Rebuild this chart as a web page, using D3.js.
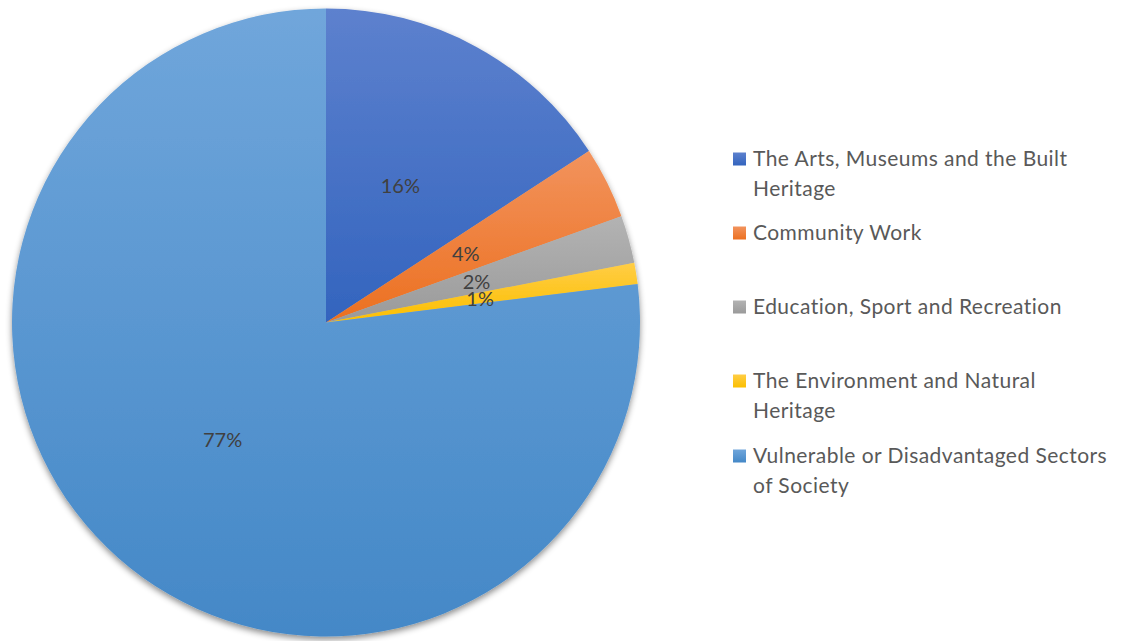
<!DOCTYPE html>
<html>
<head>
  <meta charset="utf-8" />
  <title>Pie chart</title>
  <script src="https://d3js.org/d3.v7.min.js"></script>
  <style>
    body {
      margin: 0;
      background: #fff;
    }
    svg {
      display: block;
      font-family: Lato, "Noto Sans", sans-serif;
    }
    .slice-label {
      font-size: 20px;
      fill: #404040;
      text-anchor: middle;
      dominant-baseline: central;
    }
    .legend text {
      font-size: 21px;
      letter-spacing: 0.45px;
      fill: #595959;
    }
  </style>
</head>
<body>
<svg width="1123" height="641"></svg>

<script>
  const categories = [
    "The Arts, Museums and the Built Heritage",
    "Community Work",
    "Education, Sport and Recreation",
    "The Environment and Natural Heritage",
    "Vulnerable or Disadvantaged Sectors of Society"
  ];
  const values = [15.8, 3.7, 2.45, 1.1, 76.95];
  const legendLines = [
    ["The Arts, Museums and the Built", "Heritage"],
    ["Community Work"],
    ["Education, Sport and Recreation"],
    ["The Environment and Natural", "Heritage"],
    ["Vulnerable or Disadvantaged Sectors", "of Society"]
  ];
  // top / bottom of each slice's gradient
  const topColors = ["#5d81ce", "#f2935d", "#b3b3b3", "#ffcd45", "#70a6db"];
  const bottomColors = ["#3364be", "#ec7020", "#9a9a9a", "#fbbf00", "#4488c7"];

  const svg = d3.select("svg");
  const cx = 326, cy = 322.5, radius = 314;

  const defs = svg.append("defs");
  const shadow = defs.append("filter")
    .attr("id", "shadow")
    .attr("x", "-10%").attr("y", "-10%")
    .attr("width", "120%").attr("height", "120%");
  shadow.append("feDropShadow")
    .attr("dx", 0).attr("dy", 3)
    .attr("stdDeviation", 3)
    .attr("flood-color", "#000")
    .attr("flood-opacity", 0.45);

  categories.forEach((c, i) => {
    const grad = defs.append("linearGradient")
      .attr("id", "grad" + i)
      .attr("x1", 0).attr("y1", 0)
      .attr("x2", 0).attr("y2", 1);
    grad.append("stop").attr("offset", "0%").attr("stop-color", topColors[i]);
    grad.append("stop").attr("offset", "100%").attr("stop-color", bottomColors[i]);
  });

  const pie = d3.pie().sort(null).value(d => d)(values);
  const arc = d3.arc().innerRadius(0).outerRadius(radius);
  const labelArc = d3.arc().innerRadius(radius * 0.497).outerRadius(radius * 0.497);

  const g = svg.append("g").attr("transform", `translate(${cx},${cy})`);

  g.append("g")
    .attr("filter", "url(#shadow)")
    .selectAll("path")
    .data(pie)
    .join("path")
    .attr("d", arc)
    .attr("fill", (d, i) => `url(#grad${i})`);

  g.selectAll(".slice-label")
    .data(pie)
    .join("text")
    .attr("class", "slice-label")
    .attr("transform", d => `translate(${labelArc.centroid(d)})`)
    .text(d => Math.round(d.data) + "%");

  // legend
  const legendY = [159, 233, 307, 381, 456];
  const lineH = 29.5;
  const legend = svg.append("g").attr("class", "legend");
  const item = legend.selectAll("g")
    .data(categories)
    .join("g")
    .attr("transform", (d, i) => `translate(733,${legendY[i]})`);

  item.append("rect")
    .attr("x", 0).attr("y", -6.5)
    .attr("width", 13).attr("height", 13)
    .attr("fill", (d, i) => `url(#grad${i})`);

  item.append("text")
    .attr("x", 20)
    .selectAll("tspan")
    .data((d, i) => legendLines[i])
    .join("tspan")
    .attr("x", 20)
    .attr("y", (d, j) => j * lineH)
    .attr("dy", "0.35em")
    .text(d => d);
</script>
</body>
</html>
